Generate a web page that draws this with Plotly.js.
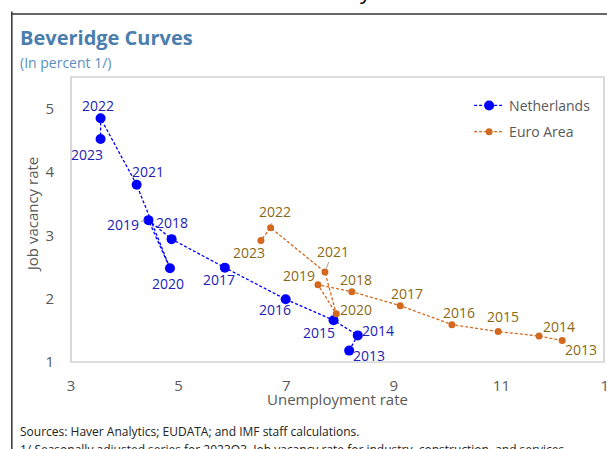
<!DOCTYPE html>
<html>
<head>
<meta charset="utf-8">
<script src="https://cdn.plot.ly/plotly-3.0.1.min.js"></script>
<style>
html,body{margin:0;padding:0;overflow:hidden;background:#fff;width:607px;height:449px;}
#chart{width:620px;height:449px;}
</style>
</head>
<body>
<div id="chart"></div>
<script>
// ---- data ----
const nlYears = ["2013","2014","2015","2016","2017","2018","2019","2020","2021","2022","2023"];
const nlUnemp = [8.17, 8.33, 7.88, 6.99, 5.86, 4.87, 4.44, 4.84, 4.22, 3.55, 3.55];
const nlVac   = [1.18, 1.42, 1.66, 1.99, 2.49, 2.94, 3.24, 2.48, 3.80, 4.85, 4.52];

const eaYears = ["2013","2014","2015","2016","2017","2018","2019","2020","2021","2022","2023"];
const eaUnemp = [12.13, 11.70, 10.94, 10.08, 9.12, 8.22, 7.59, 7.93, 7.72, 6.71, 6.53];
const eaVac   = [1.34, 1.41, 1.48, 1.59, 1.89, 2.11, 2.22, 1.76, 2.42, 3.12, 2.92];

const xTicks = [3, 5, 7, 9, 11, 13];
const yTicks = [1, 2, 3, 4, 5];

// ---- label placement (pixel offsets, not data) ----
const nlOff = {
  "2013": [20, 5, false], "2014": [20, -5, false], "2015": [-15, 12, false],
  "2016": [-11, 10, false], "2017": [-6, 12, false], "2018": [0, -17, false],
  "2019": [-25, 4, true], "2020": [-2, 15, false], "2021": [11, -13, false],
  "2022": [-3, -13, false], "2023": [-14, 15, false]
};
const eaOff = {
  "2013": [19, 9, false], "2014": [20, -10, false], "2015": [5, -15, true],
  "2016": [7, -12, false], "2017": [7, -12, false], "2018": [4, -12, false],
  "2019": [-19, -9, false], "2020": [20, -4, false], "2021": [8, -21, true],
  "2022": [4, -16, true], "2023": [-12, 12, false]
};

const FONT = "'Open Sans', 'Noto Sans', sans-serif";
const blue = "#0000FF";
const nlLabel = "#2121B8";
const orange = "#D2691E";
const eaLabel = "#8B6914";

const traces = [
  {
    x: nlUnemp, y: nlVac, name: "Netherlands", type: "scatter", mode: "lines+markers",
    line: {color: blue, width: 1.3, dash: "3px,2px"},
    marker: {color: blue, size: 10},
    legendgroup: "a"
  },
  {
    x: eaUnemp, y: eaVac, name: "Euro Area", type: "scatter", mode: "lines+markers",
    line: {color: orange, width: 1.3, dash: "3px,2px"},
    marker: {color: orange, size: 7},
    legendgroup: "b"
  }
];

const annotations = [];
function addLabels(years, xs, ys, off, color) {
  years.forEach((yr, i) => {
    const o = off[yr];
    annotations.push({
      x: xs[i], y: ys[i], xref: "x", yref: "y", text: yr,
      showarrow: true, ax: o[0], ay: o[1], arrowhead: 0, arrowwidth: 1,
      arrowcolor: o[2] ? "#A0A0A0" : "rgba(0,0,0,0)", standoff: 4,
      font: {family: FONT, size: 14, color: color}
    });
  });
}
addLabels(nlYears, nlUnemp, nlVac, nlOff, nlLabel);
addLabels(eaYears, eaUnemp, eaVac, eaOff, eaLabel);

// titles and notes
const LX = -0.0985;
annotations.push(
  {xref: "paper", yref: "paper", x: LX, y: 1.137, xanchor: "left", yanchor: "middle",
   text: "<b>Beveridge Curves</b>", showarrow: false,
   font: {family: FONT, size: 20, color: "#4A7EAE"}},
  {xref: "paper", yref: "paper", x: LX, y: 1.05, xanchor: "left", yanchor: "middle",
   text: "(In percent 1/)", showarrow: false,
   font: {family: FONT, size: 14, color: "#5B8EC0"}},
  {xref: "paper", yref: "paper", x: 0.496, y: -0.131, xanchor: "center", yanchor: "middle",
   text: "Unemployment rate", showarrow: false,
   font: {family: FONT, size: 15, color: "#595959"}},
  {xref: "paper", yref: "paper", x: -0.073, y: 0.5175, xanchor: "center", yanchor: "middle",
   text: "Job vacancy rate", showarrow: false, textangle: -90,
   font: {family: FONT, size: 15, color: "#595959"}},
  {xref: "paper", yref: "paper", x: LX, y: -0.245, xanchor: "left", yanchor: "middle",
   text: "Sources: Haver Analytics; EUDATA; and IMF staff calculations.", showarrow: false,
   font: {family: FONT, size: 12, color: "#222222"}},
  {xref: "paper", yref: "paper", x: LX, y: -0.308, xanchor: "left", yanchor: "middle",
   text: "1/ Seasonally adjusted series for 2023Q3. Job vacancy rate for industry, construction, and services.", showarrow: false,
   font: {family: FONT, size: 12, color: "#222222"}},
  {xref: "paper", yref: "paper", x: 0.549, y: 1.245, xanchor: "center", yanchor: "bottom",
   text: "y", showarrow: false,
   font: {family: FONT, size: 22, color: "#000000"}}
);

const layout = {
  width: 620, height: 449,
  margin: {l: 71, r: 11, t: 77, b: 87, pad: 0},
  paper_bgcolor: "#fff", plot_bgcolor: "#fff",
  font: {family: FONT, color: "#595959"},
  showlegend: true,
  legend: {x: 0.74, y: 0.955, xanchor: "left", yanchor: "top", bgcolor: "rgba(0,0,0,0)",
           font: {family: FONT, size: 14, color: "#595959"}, traceorder: "grouped", tracegroupgap: 5},
  xaxis: {range: [3, 13], tickvals: xTicks, ticktext: xTicks.map(String), showgrid: false,
          zeroline: false, showline: false, ticks: "outside", ticklen: 10, tickcolor: "rgba(0,0,0,0)",
          ticklabeloverflow: "allow",
          tickfont: {family: FONT, size: 15, color: "#595959"}},
  yaxis: {range: [1, 5.5], tickvals: yTicks, ticktext: yTicks.map(String), showgrid: false,
          zeroline: false, showline: false, ticks: "outside", ticklen: 13, tickcolor: "rgba(0,0,0,0)",
          tickfont: {family: FONT, size: 15, color: "#595959"}},
  shapes: [
    {type: "rect", xref: "paper", yref: "paper", x0: 0, x1: 0.9907, y0: 0, y1: 1,
     line: {color: "#C0C0C0", width: 1.2}, fillcolor: "rgba(0,0,0,0)", layer: "below"},
    {type: "line", xref: "paper", yref: "paper", x0: -0.110, x1: -0.110, y0: 1.23, y1: -0.5,
     line: {color: "#333333", width: 1.5}},
    {type: "line", xref: "paper", yref: "paper", x0: -0.110, x1: 1.1, y0: 1.221, y1: 1.221,
     line: {color: "#333333", width: 1.5}}
  ],
  annotations: annotations
};

Plotly.newPlot("chart", traces, layout, {displayModeBar: false, responsive: false});
</script>
</body>
</html>
